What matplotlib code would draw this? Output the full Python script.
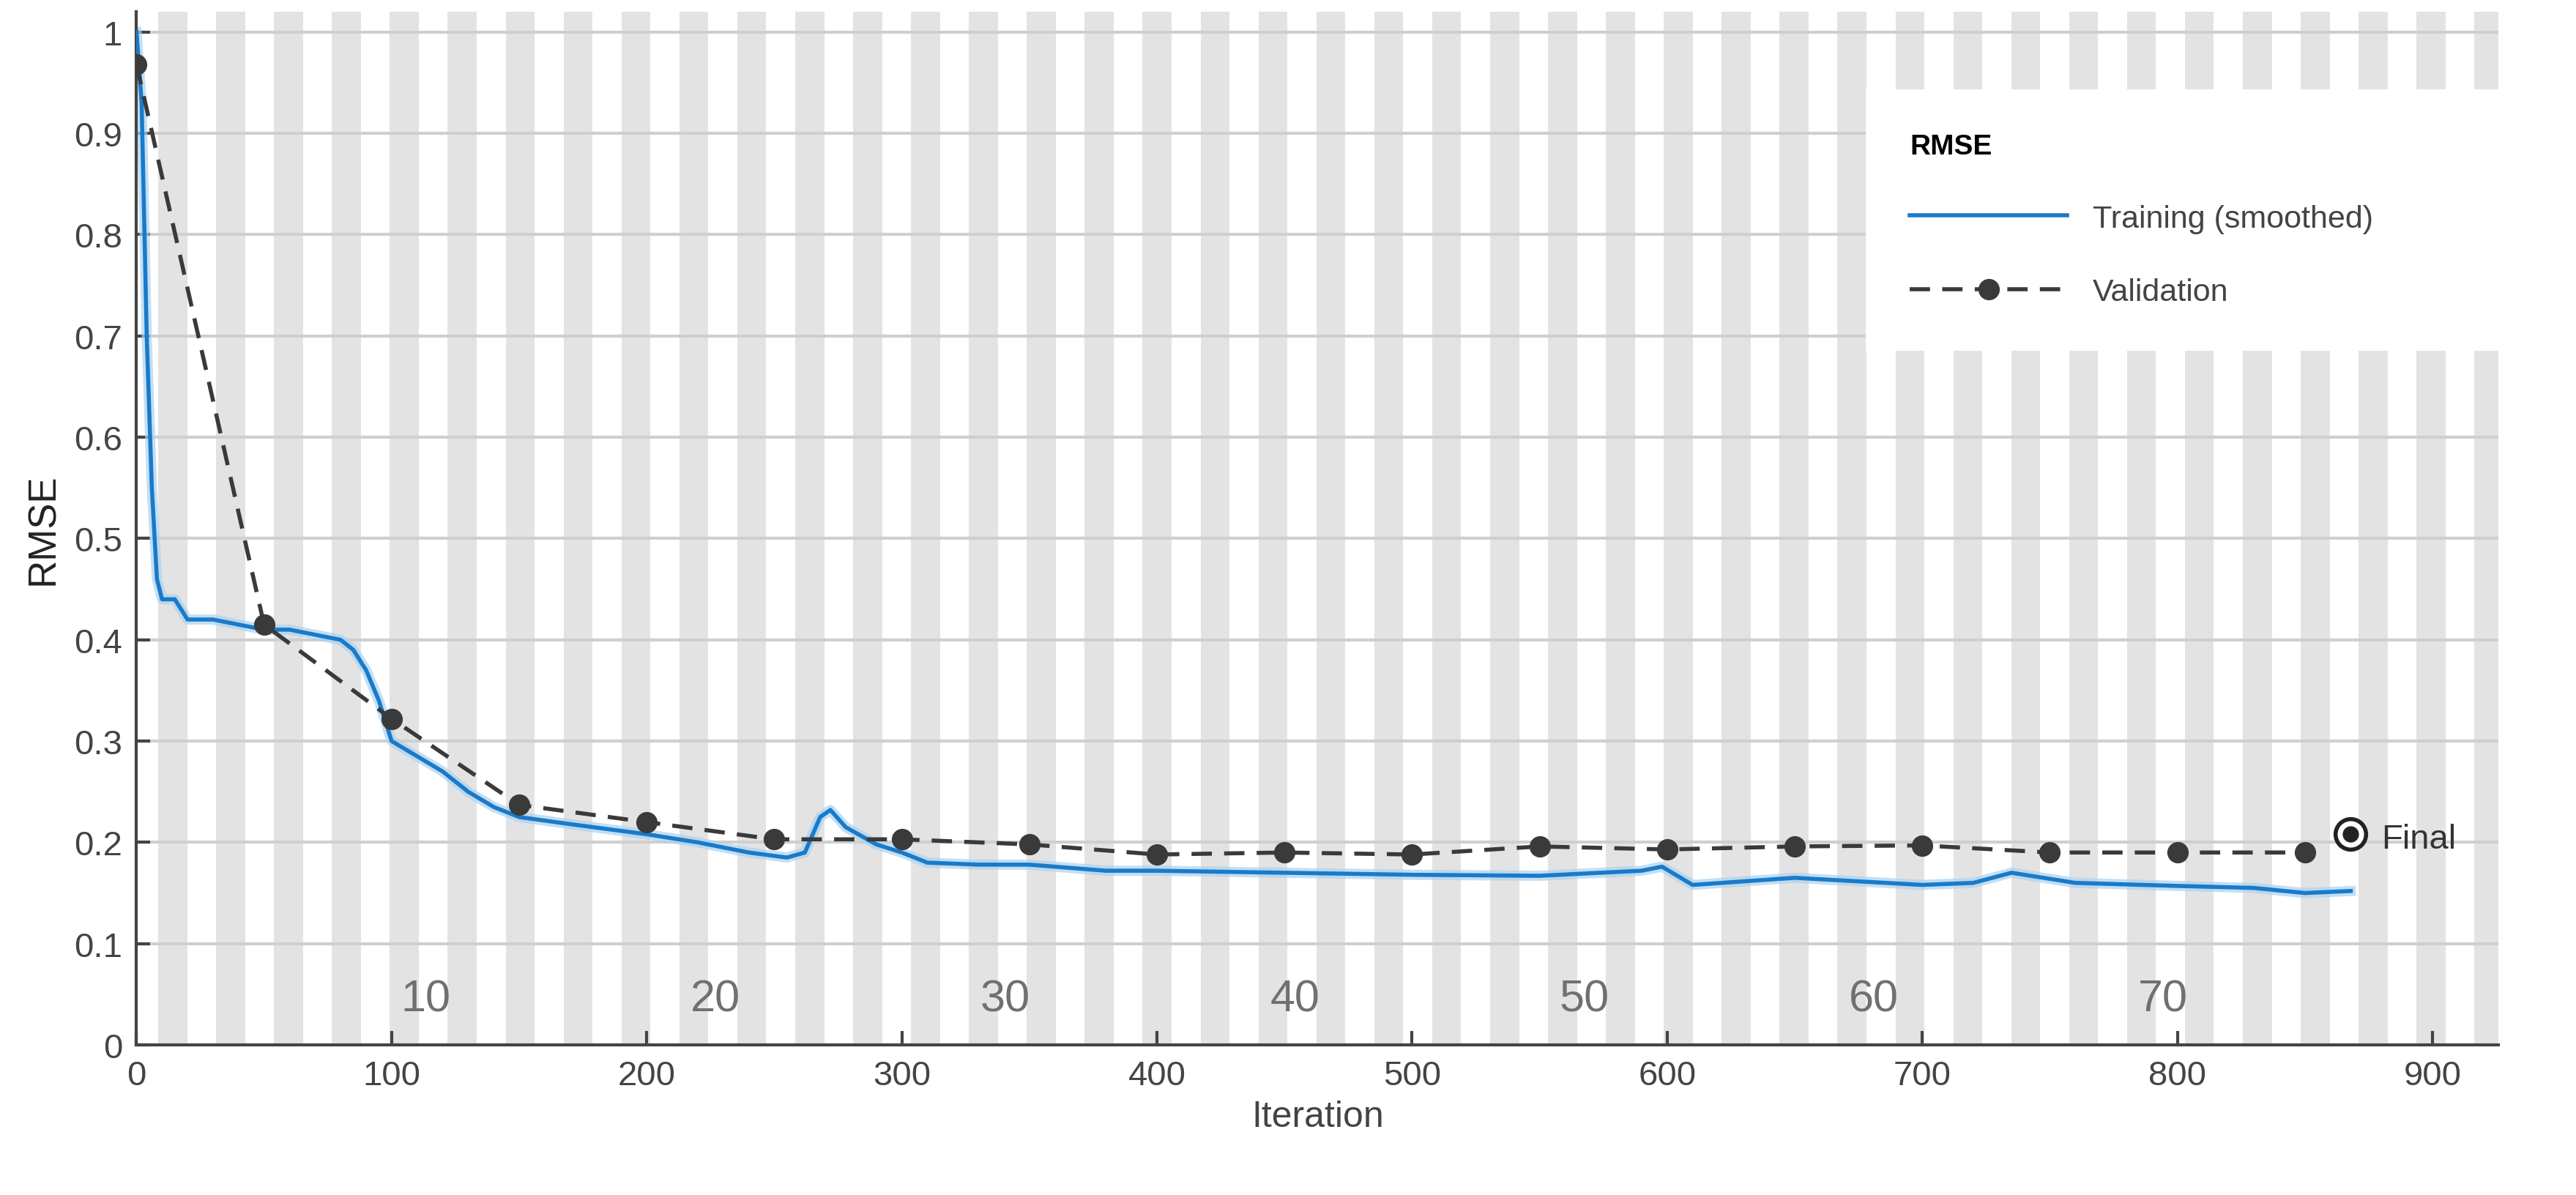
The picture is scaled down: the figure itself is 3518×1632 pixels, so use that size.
import matplotlib
matplotlib.use("Agg")
import matplotlib.pyplot as plt
import numpy as np

plt.rcParams['font.family'] = ['Liberation Sans', 'DejaVu Sans']

train_iter = [0, 2, 4, 6, 8, 10, 15, 20, 30, 40, 50, 60, 70, 80, 85, 90, 95, 100, 110, 120, 130, 140, 150, 170, 200, 220, 240, 255, 262, 268, 272, 278, 290, 300, 310, 330, 350, 380, 400, 450, 500, 550, 590, 598, 610, 650, 700, 720, 735, 760, 800, 830, 850, 868]
train_rmse = [1.0, 0.93, 0.7, 0.55, 0.46, 0.44, 0.44, 0.42, 0.42, 0.415, 0.41, 0.41, 0.405, 0.40, 0.39, 0.37, 0.34, 0.30, 0.285, 0.27, 0.25, 0.235, 0.225, 0.218, 0.208, 0.20, 0.19, 0.185, 0.19, 0.225, 0.232, 0.215, 0.198, 0.19, 0.18, 0.178, 0.178, 0.172, 0.172, 0.170, 0.168, 0.167, 0.172, 0.176, 0.158, 0.165, 0.158, 0.16, 0.17, 0.16, 0.157, 0.155, 0.150, 0.152]
val_iter = [0, 50, 100, 150, 200, 250, 300, 350, 400, 450, 500, 550, 600, 650, 700, 750, 800, 850]
val_rmse = [0.968, 0.415, 0.322, 0.237, 0.220, 0.203, 0.203, 0.198, 0.188, 0.190, 0.188, 0.196, 0.193, 0.196, 0.197, 0.190, 0.190, 0.190]
final_iter = 868
final_rmse = 0.208
epoch_labels = [10, 20, 30, 40, 50, 60, 70]
iters_per_epoch = 11.35

fig = plt.figure(figsize=(35.18, 16.33), dpi=100)
ax = fig.add_axes([0.053, 0.1255, 0.917, 0.864])
ax.set_xlim(0, 926)
ax.set_ylim(0, 1.02)

start = 8.5
while start < 926:
    ax.axvspan(start, start + iters_per_epoch, color="#e3e3e3", lw=0, zorder=0)
    start += 2 * iters_per_epoch
for e in epoch_labels:
    ax.text(e * iters_per_epoch, 0.045, str(e), fontsize=44, color="#707070", ha="center", va="center", zorder=1)

ax.grid(axis="y", color="#cfcfcf", lw=3, zorder=0.5)
ax.set_axisbelow(True)

ax.plot(train_iter, train_rmse, color="#a9d2f2", lw=10, alpha=0.7, zorder=2)
ax.plot(train_iter, train_rmse, color="#1a7ac8", lw=4, zorder=3, label="Training (smoothed)")
ax.plot(val_iter, val_rmse, color="#3a3a3a", lw=4, ls=(0, (5, 3)), marker="o", ms=20, zorder=4, label="Validation")
ax.plot([final_iter], [final_rmse], "o", ms=30, mfc="white", mec="#222222", mew=4, zorder=5)
ax.plot([final_iter], [final_rmse], "o", ms=15, color="#222222", zorder=6)
ax.text(final_iter + 12, final_rmse - 0.005, "Final", fontsize=34, color="#333333", va="center")

ax.set_yticks(np.arange(0, 1.01, 0.1))
ax.set_yticklabels(["0", "0.1", "0.2", "0.3", "0.4", "0.5", "0.6", "0.7", "0.8", "0.9", "1"])
ax.set_xticks(range(0, 901, 100))
ax.tick_params(labelsize=34, colors="#444444", width=3, length=14, direction="in", pad=14)
for s in ["top", "right"]:
    ax.spines[s].set_visible(False)
for s in ["left", "bottom"]:
    ax.spines[s].set_linewidth(3)
    ax.spines[s].set_color("#444444")
ax.set_xlabel("Iteration", fontsize=36, color="#444444", labelpad=8)
ax.set_ylabel("RMSE", fontsize=38, color="#222222", labelpad=12)

leg = ax.legend(loc="upper left", bbox_to_anchor=(0.732, 0.925, 0.27, 0.0), title="RMSE", fontsize=31, frameon=True,
                handlelength=5, borderpad=1.4, labelspacing=1.4, alignment="left", mode="expand", borderaxespad=0)
leg.get_title().set_fontsize(28)
leg.get_title().set_fontweight("bold")
leg.get_frame().set_edgecolor("none")
leg.get_frame().set_alpha(1)
leg.get_frame().set_boxstyle("square", pad=0)
for t in leg.get_texts():
    t.set_color("#444444")

fig.savefig("out.png", dpi=100, facecolor="white")
